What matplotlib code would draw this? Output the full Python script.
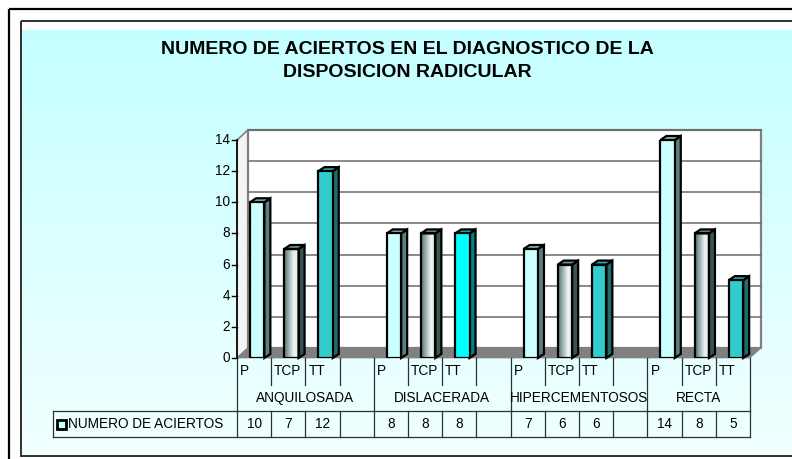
import numpy as np
import matplotlib.pyplot as plt
from matplotlib.patches import Rectangle, Polygon
from matplotlib.colors import LinearSegmentedColormap
from matplotlib.transforms import blended_transform_factory

plt.rcParams['font.family'] = ['Liberation Sans', 'DejaVu Sans']

# datos
grupos = ['ANQUILOSADA', 'DISLACERADA', 'HIPERCEMENTOSOS', 'RECTA']
pruebas = ['P', 'TCP', 'TT']
aciertos = [[10, 7, 12], [8, 8, 8], [7, 6, 6], [14, 8, 5]]
yticks = [0, 2, 4, 6, 8, 10, 12, 14]
serie = 'NUMERO DE ACIERTOS'
titulo = 'NUMERO DE ACIERTOS EN EL DIAGNOSTICO DE LA\nDISPOSICION RADICULAR'

# colores (frente, lado, tapa) por prueba
col_frente = {'P': '#CCFFFF', 'TCP': None, 'TT': '#33CCCC'}
col_lado = {'P': '#5E7F7F', 'TCP': '#3A5555', 'TT': '#1F6B6B'}
col_tapa = {'P': '#8FB0B0', 'TCP': '#6F8F8F', 'TT': '#2FA8A8'}

W, H = 792, 459
fig = plt.figure(figsize=(W / 100, H / 100), dpi=100)

# fondo con degradado
bg = fig.add_axes([0, 0, 1, 1])
grad = np.linspace(0, 1, 256).reshape(-1, 1)
cm_bg = LinearSegmentedColormap.from_list('bg', ['#C4FFFF', '#F2FFFF'])
bg.imshow(grad, extent=(21, W + 20, 456, 30), cmap=cm_bg, aspect='auto', origin='upper')
bg.add_patch(Rectangle((9, 9), W + 20, H + 20, fill=False, ec='black', lw=1.6))
bg.add_patch(Rectangle((21, 21), W + 20, 435, fill=False, ec='#303030', lw=1.4))
bg.set_xlim(0, W)
bg.set_ylim(H, 0)
bg.axis('off')

fig.text(407 / W, 1 - 61 / H, titulo, ha='center', va='center', fontsize=14,
         fontweight='bold', linespacing=1.45)

# area del grafico
x0, x1, y0, y1 = 237, 750, 358, 140
ax = fig.add_axes([x0 / W, (H - y0) / H, (x1 - x0) / W, (y0 - y1) / H])
n = 15
ymax = 14
ax.set_xlim(0, n)
ax.set_ylim(0, ymax)
ax.axis('off')
sx = (x1 - x0) / n
sy = (y0 - y1) / ymax
fs = 9.8

# paredes y piso
dxw, dyw = 11 / sx, 10 / sy
ax.add_patch(Polygon([(0, 0), (0, ymax), (dxw, ymax + dyw), (dxw, dyw)],
                     fc='#F4F4F4', ec='#808080', lw=1.2, clip_on=False, zorder=1))
ax.add_patch(Rectangle((dxw, dyw), n, ymax, fc='white', ec='#808080', lw=1.6,
                       clip_on=False, zorder=1))
for t in yticks[1:]:
    ax.plot([dxw, n + dxw], [t + dyw] * 2, color='#6A6A6A', lw=1.1, clip_on=False, zorder=2)
ax.add_patch(Polygon([(0, 0), (n, 0), (n + dxw, dyw), (dxw, dyw)],
                     fc='#808080', ec='#808080', lw=0.5, clip_on=False, zorder=2))

# eje y
ax.plot([0, 0], [0, ymax], color='black', lw=1.2, clip_on=False, zorder=3)
for t in yticks:
    ax.plot([-5 / sx, 0], [t, t], color='black', lw=1, clip_on=False, zorder=3)
    ax.text(-7 / sx, t, str(t), ha='right', va='center', fontsize=fs)

# barras 3D
w = 0.42
bdx, bdy = 6 / sx, 4 / sy
cm_tcp = LinearSegmentedColormap.from_list('tcp', ['#4F7272', '#9FB5B5', '#F2F2F2', '#E0E6E6'])
for g, vals in enumerate(aciertos):
    for i, v in enumerate(vals):
        p = pruebas[i]
        xc = 4 * g + i + 0.5 + 0.09
        xl, xr = xc - w / 2, xc + w / 2
        frente = col_frente[p]
        lado = col_lado[p]
        if p == 'TT' and g == 1:
            frente, lado = '#00FFFF', '#008080'
        if frente is None:
            ax.imshow(np.linspace(0, 1, 64).reshape(1, -1), extent=(xl, xr, 0, v),
                      cmap=cm_tcp, aspect='auto', zorder=4)
            ax.bar(xc, v, width=w, color='none', edgecolor='black', lw=1.6, zorder=5)
        else:
            ax.bar(xc, v, width=w, color=frente, edgecolor='black', lw=1.6, zorder=5)
        ax.add_patch(Polygon([(xr, 0), (xr, v), (xr + bdx, v + bdy), (xr + bdx, bdy)],
                             fc=lado, ec='black', lw=1.6, zorder=4, clip_on=False))
        ax.add_patch(Polygon([(xl, v), (xr, v), (xr + bdx, v + bdy), (xl + bdx, v + bdy)],
                             fc=col_tapa[p], ec='black', lw=1.6, zorder=4, clip_on=False))
ax.set_xlim(0, n)
ax.set_ylim(0, ymax)

# tabla de datos
tr = blended_transform_factory(ax.transData, ax.transAxes)
hax = y0 - y1


def Y(px):
    return -px / hax


xleg = (53 - x0) / sx
lc = '#303030'
for k in range(n + 1):
    if k % 4 == 0 or k == n:
        ax.plot([k, k], [Y(0), Y(53)], color=lc, lw=0.9, transform=tr, clip_on=False)
    else:
        ax.plot([k, k], [Y(0), Y(27)], color=lc, lw=0.9, transform=tr, clip_on=False)
    ax.plot([k, k], [Y(53), Y(79)], color=lc, lw=0.9, transform=tr, clip_on=False)
for yy in (53, 79):
    ax.plot([xleg, n], [Y(yy), Y(yy)], color=lc, lw=0.9, transform=tr, clip_on=False)
ax.plot([xleg, xleg], [Y(53), Y(79)], color=lc, lw=0.9, transform=tr, clip_on=False)

for g, vals in enumerate(aciertos):
    for i, v in enumerate(vals):
        slot = 4 * g + i
        ax.text(slot + 3 / sx, Y(13), pruebas[i], ha='left', va='center', fontsize=fs,
                transform=tr)
        ax.text(slot + 0.5, Y(66), str(v), ha='center', va='center', fontsize=fs,
                transform=tr)
    gc = (4 * g + min(4 * g + 4, n)) / 2
    ax.text(gc, Y(40), grupos[g], ha='center', va='center', fontsize=fs, transform=tr)

ax.add_patch(Rectangle((xleg + 4 / sx, Y(71)), 9 / sx, 9 / hax, fc='#CCFFFF', ec='black',
                       lw=2, transform=tr, clip_on=False, zorder=6))
ax.text(xleg + 15 / sx, Y(66), serie, ha='left', va='center', fontsize=fs, transform=tr)

fig.savefig('out.png', dpi=100)
